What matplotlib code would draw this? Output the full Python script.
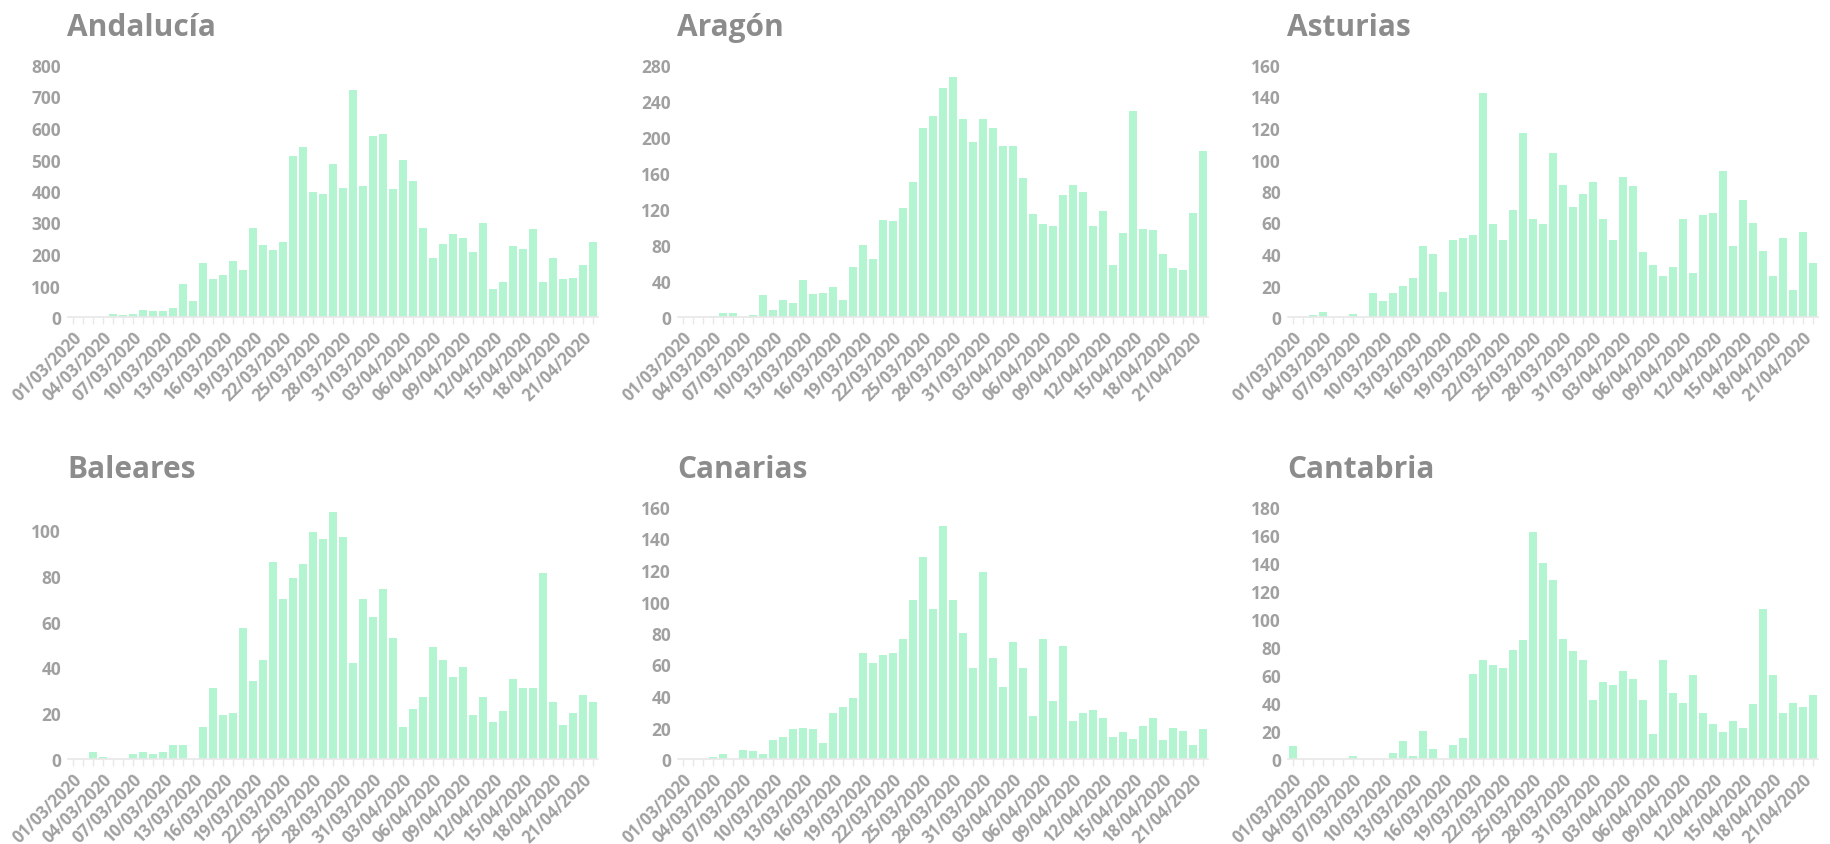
import numpy as np
import pandas as pd
import matplotlib
matplotlib.use("Agg")
import matplotlib.pyplot as plt

# ============================================================
# Data: daily new cases, 01/03/2020 - 22/04/2020
# ============================================================
DATES = pd.date_range("2020-03-01", "2020-04-22", freq="D")
DATE_LABELS = [d.strftime("%d/%m/%Y") for d in DATES]

REGIONS = ["Andalucía", "Aragón", "Asturias", "Baleares", "Canarias", "Cantabria"]

andalucia = [0, 0, 0, 0, 9, 6, 8, 23, 18, 20, 27, 105, 52, 170, 120, 132, 178, 150,
             282, 230, 212, 238, 512, 540, 398, 390, 485, 408, 722, 415, 575, 580,
             405, 497, 433, 283, 188, 233, 265, 250, 205, 297, 90, 110, 225, 215,
             278, 110, 187, 120, 125, 165, 238]
aragon = [0, 0, 0, 1, 5, 5, 0, 2, 25, 8, 19, 16, 41, 26, 27, 33, 19, 56, 80, 64,
          108, 107, 121, 150, 210, 223, 255, 267, 220, 195, 220, 210, 190, 190,
          154, 115, 103, 101, 136, 147, 139, 101, 118, 58, 93, 229, 98, 97, 70,
          55, 52, 116, 184]
asturias = [0, 0, 1, 3, 0, 0, 2, 0, 15, 10, 15, 20, 25, 45, 40, 16, 49, 50, 52,
            142, 59, 49, 68, 117, 62, 59, 104, 84, 70, 78, 86, 62, 49, 89, 83, 41,
            33, 26, 32, 62, 28, 65, 66, 93, 45, 74, 60, 42, 26, 50, 17, 54, 34]
baleares = [0, 0, 3, 1, 0, 0, 2, 3, 2, 3, 6, 6, 0, 14, 31, 19, 20, 57, 34, 43, 86,
            70, 79, 85, 99, 96, 108, 97, 42, 70, 62, 74, 53, 14, 22, 27, 49, 43,
            36, 40, 19, 27, 16, 21, 35, 31, 31, 81, 25, 15, 20, 28, 25]
canarias = [0, 0, 0, 1, 3, 0, 6, 5, 3, 12, 14, 19, 20, 19, 10, 29, 33, 39, 67, 61,
            66, 67, 76, 101, 128, 95, 148, 101, 80, 58, 119, 64, 46, 74, 58, 27,
            76, 37, 72, 24, 29, 31, 26, 14, 17, 13, 21, 26, 12, 20, 18, 9, 19]
cantabria = [9, 0, 0, 0, 0, 0, 2, 0, 0, 0, 4, 13, 2, 20, 7, 0, 10, 15, 61, 71, 67,
             65, 78, 85, 162, 140, 128, 86, 77, 71, 42, 55, 53, 63, 57, 42, 18, 71,
             47, 40, 60, 33, 25, 19, 27, 22, 39, 107, 60, 33, 40, 37, 46]

SERIES = [andalucia, aragon, asturias, baleares, canarias, cantabria]
Y_MAX = [800, 280, 160, 110, 160, 180]
Y_STEP = [100, 40, 20, 20, 20, 20]

# ============================================================
# Style
# ============================================================
plt.rcParams["font.family"] = ["Open Sans", "DejaVu Sans"]
BAR_COLOR = "#b3f5d1"
TICK_COLOR = "#a0a0a0"
TITLE_COLOR = "#8c8c8c"
LINE_COLOR = "#e8e8e8"

W, H = 1831, 845
fig = plt.figure(figsize=(W / 100, H / 100), dpi=100)

# axes boxes in pixels (left, top) -> fractions
COL_LEFT = [68, 678, 1288]
ROW_TOP = [66, 508]
AX_W, AX_H = 530, 252

x = np.arange(len(DATE_LABELS))

for i, (name, vals) in enumerate(zip(REGIONS, SERIES)):
    r, c = divmod(i, 3)
    left = COL_LEFT[c] / W
    bottom = 1 - (ROW_TOP[r] + AX_H) / H
    ax = fig.add_axes([left, bottom, AX_W / W, AX_H / H])

    ax.bar(x, vals, width=0.86, color=BAR_COLOR, linewidth=0)
    ax.set_xlim(-0.5, len(x) - 0.5)
    ax.set_ylim(0, Y_MAX[i])
    ax.set_yticks(np.arange(0, Y_MAX[i] + 1, Y_STEP[i]))

    ax.set_xticks(x)
    ax.set_xticklabels([lab if k % 3 == 0 else "" for k, lab in enumerate(DATE_LABELS)],
                       rotation=45, ha="right", rotation_mode="anchor")

    for s in ["top", "right", "left"]:
        ax.spines[s].set_visible(False)
    ax.spines["bottom"].set_color(LINE_COLOR)
    ax.spines["bottom"].set_linewidth(1.2)

    ax.tick_params(axis="y", length=0, pad=5, labelsize=12.5, labelcolor=TICK_COLOR)
    ax.tick_params(axis="x", length=5, width=1, color=LINE_COLOR, pad=3,
                   labelsize=12, labelcolor=TICK_COLOR)
    for lab in ax.get_xticklabels() + ax.get_yticklabels():
        lab.set_fontweight("bold")

    ax.text(-0.002, 1.119, name, transform=ax.transAxes, fontsize=21.5,
            fontweight="bold", color=TITLE_COLOR, ha="left", va="baseline")

plt.savefig("out.png", dpi=100)
